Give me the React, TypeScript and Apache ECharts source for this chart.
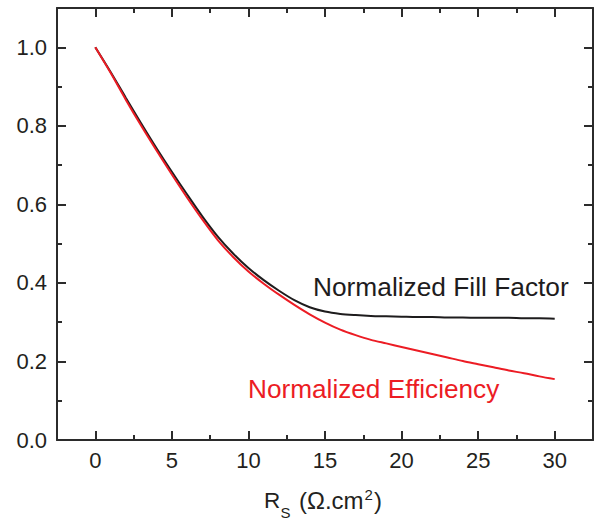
import React, { useEffect, useRef } from "react";
import * as echarts from "echarts";

const rs = [0, 1, 2, 3, 4, 5, 6, 7, 8, 9, 10, 11, 12, 13, 14, 15, 16, 17, 18, 19, 20, 21, 22, 23, 24, 25, 26, 27, 28, 29, 30];
const fillFactor = [1.0, 0.937, 0.871, 0.806, 0.743, 0.683, 0.625, 0.569, 0.518, 0.475, 0.438, 0.407, 0.380, 0.356, 0.338, 0.327, 0.321, 0.318, 0.316, 0.315, 0.314, 0.313, 0.313, 0.312, 0.312, 0.311, 0.311, 0.311, 0.310, 0.310, 0.309];
const efficiency = [1.0, 0.935, 0.866, 0.800, 0.737, 0.676, 0.617, 0.561, 0.509, 0.466, 0.429, 0.398, 0.370, 0.344, 0.320, 0.299, 0.281, 0.267, 0.255, 0.246, 0.237, 0.228, 0.219, 0.210, 0.201, 0.193, 0.185, 0.177, 0.170, 0.162, 0.155];

const xMajorTicks = [0, 5, 10, 15, 20, 25, 30];
const xMinorTicks = [2.5, 7.5, 12.5, 17.5, 22.5, 27.5];
const yMajorTicks = [0, 0.2, 0.4, 0.6, 0.8, 1.0];
const yMinorTicks = [0.1, 0.3, 0.5, 0.7, 0.9];

const seriesNames = ["Normalized Fill Factor", "Normalized Efficiency"];

const FONT = "'Liberation Sans', Arial, Helvetica, sans-serif";
const AXIS = "#2b2b2b";
const BLACK = "#1e1c1d";
const RED = "#ec1c24";
const TEXT = "#231f20";

function makeAxis(kind: "x" | "y", position: string, ticks: number[], len: number, line: boolean, labels: boolean) {
  const base: any = {
    type: "value",
    position,
    min: kind === "x" ? -2.5 : 0,
    max: kind === "x" ? 32.5 : 1.1,
    axisLine: { show: line, onZero: false, lineStyle: { color: AXIS, width: 2 } },
    axisTick: { show: true, inside: true, length: len, customValues: ticks, lineStyle: { color: AXIS, width: 2 } },
    axisLabel: labels
      ? {
          show: true,
          customValues: ticks,
          fontSize: 22,
          fontFamily: FONT,
          color: TEXT,
          margin: kind === "x" ? 9 : 10,
          formatter: (v: number) => (kind === "x" ? String(v) : v.toFixed(1)),
        }
      : { show: false },
    splitLine: { show: false },
    minorTick: { show: false },
  };
  return base;
}

function txt(text: string, x: number, y: number, size: number, fill: string) {
  return {
    type: "text",
    x,
    y,
    style: { text, font: `${size}px ${FONT}`, fill, textAlign: "left", textVerticalAlign: "middle", align: "left", verticalAlign: "middle" },
  };
}

export default function App() {
  const ref = useRef<HTMLDivElement>(null);
  useEffect(() => {
    if (!ref.current) return;
    const chart = echarts.init(ref.current, undefined, { renderer: "svg" });
    const option: any = {
      animation: false,
      backgroundColor: "#ffffff",
      grid: { left: 57, right: 5, top: 8, bottom: 80, containLabel: false },
      xAxis: [
        makeAxis("x", "bottom", xMajorTicks, 9, true, true),
        makeAxis("x", "bottom", xMinorTicks, 5, false, false),
        makeAxis("x", "top", xMajorTicks, 9, true, false),
        makeAxis("x", "top", xMinorTicks, 5, false, false),
      ],
      yAxis: [
        makeAxis("y", "left", yMajorTicks, 9, true, true),
        makeAxis("y", "left", yMinorTicks, 5, false, false),
        makeAxis("y", "right", yMajorTicks, 9, true, false),
        makeAxis("y", "right", yMinorTicks, 5, false, false),
      ],
      series: [
        {
          name: seriesNames[0],
          type: "line",
          xAxisIndex: 0,
          yAxisIndex: 0,
          data: rs.map((x, i) => [x, fillFactor[i]]),
          symbol: "none",
          smooth: 0.3,
          lineStyle: { color: BLACK, width: 2 },
        },
        {
          name: seriesNames[1],
          type: "line",
          xAxisIndex: 0,
          yAxisIndex: 0,
          data: rs.map((x, i) => [x, efficiency[i]]),
          symbol: "none",
          smooth: 0.3,
          lineStyle: { color: RED, width: 2 },
        },
      ],
      graphic: [
        txt(seriesNames[0], 313, 287, 26.3, BLACK),
        txt(seriesNames[1], 248, 389, 26.2, RED),
        txt("R", 264, 500, 22.5, TEXT),
        txt("S", 280.5, 512.5, 15, TEXT),
        txt("(Ω.cm", 299, 500, 24, TEXT),
        txt("2", 364.5, 494, 15, TEXT),
        txt(")", 374, 500, 24, TEXT),
      ],
    };
    chart.setOption(option);
    return () => chart.dispose();
  }, []);
  return <div ref={ref} style={{ position: "fixed", left: 0, top: 0, width: 598, height: 520 }} />;
}
